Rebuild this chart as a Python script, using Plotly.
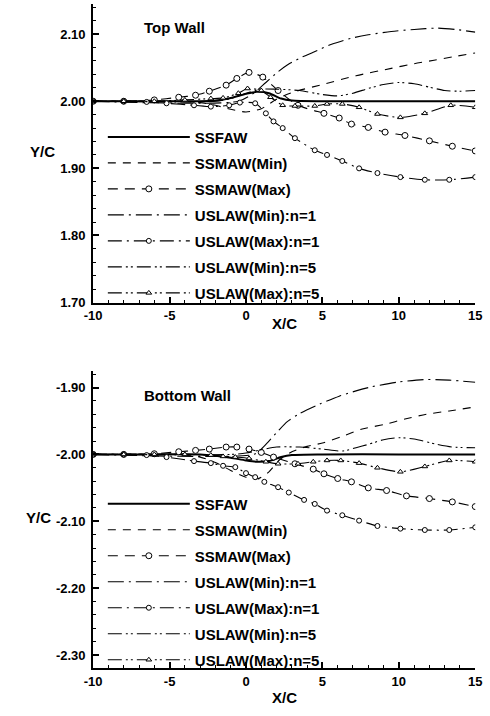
import plotly.graph_objects as go

# ---------------- data ----------------
series_names = ["SSFAW", "SSMAW(Min)", "SSMAW(Max)", "USLAW(Min):n=1",
                "USLAW(Max):n=1", "USLAW(Min):n=5", "USLAW(Max):n=5"]

x_ticks = [-10, -5, 0, 5, 10, 15]
x_tick_text = ["-10", "-5", "0", "5", "10", "15"]
top_y_ticks = [1.70, 1.80, 1.90, 2.00, 2.10]
top_y_tick_text = ["1.70", "1.80", "1.90", "2.00", "2.10"]
bot_y_ticks = [-2.30, -2.20, -2.10, -2.00, -1.90]
bot_y_tick_text = ["-2.30", "-2.20", "-2.10", "-2.00", "-1.90"]

# Top wall
top_ssfaw_x = [-10, -6, -3, -2, -1, 0, 0.7, 1.5, 2.3, 3, 5, 10, 15]
top_ssfaw_y = [2.000, 2.000, 2.000, 2.001, 2.005, 2.011, 2.014, 2.012, 2.004, 2.001, 2.000, 2.000, 2.000]

top_ssmaw_min_x = [-10, -5, -3, -2, -1, 0, 1, 2, 3, 5, 7.2, 9.5, 11, 12.3, 13.5, 15]
top_ssmaw_min_y = [2.000, 2.000, 1.998, 1.994, 1.988, 1.984, 1.989, 2.003, 2.013, 2.025, 2.038, 2.049, 2.056, 2.061, 2.066, 2.072]

top_ssmaw_max_x = [-10, -8, -6, -4.4, -3.3, -2.4, -1.3, -0.6, 0.2, 1.1, 2.1, 3.4, 5.1, 6.1, 6.9, 8.0, 9.1, 10.4, 12.0, 13.5, 15]
top_ssmaw_max_y = [2.000, 2.000, 2.002, 2.006, 2.009, 2.015, 2.024, 2.034, 2.043, 2.036, 2.016, 1.994, 1.982, 1.975, 1.966, 1.961, 1.954, 1.949, 1.941, 1.933, 1.926]

top_uslaw_min1_x = [-10, -0.5, 0.5, 1.3, 2.1, 2.7, 3.5, 4.4, 5.6, 6.9, 8, 9.5, 11, 12.5, 13.7, 15]
top_uslaw_min1_y = [2.000, 2.000, 2.012, 2.028, 2.044, 2.054, 2.064, 2.073, 2.085, 2.094, 2.099, 2.104, 2.107, 2.109, 2.107, 2.103]

top_uslaw_max1_x = [-10, -8, -6.5, -5.2, -3.4, -2.3, -1.1, -0.4, 0.6, 1.3, 1.8, 2.4, 3.2, 4.5, 5.3, 6.3, 7.4, 8.6, 10.1, 11.7, 13.3, 15]
top_uslaw_max1_y = [2.000, 2.000, 1.999, 1.997, 1.994, 1.992, 1.994, 1.998, 1.997, 1.982, 1.970, 1.960, 1.945, 1.927, 1.920, 1.911, 1.900, 1.893, 1.887, 1.883, 1.883, 1.887]

top_uslaw_min5_x = [-10, -2, -1, 0, 1, 2, 3.5, 5, 6, 7, 8, 9, 10, 11, 12, 13, 14, 15]
top_uslaw_min5_y = [2.000, 2.000, 2.004, 2.012, 2.018, 2.018, 2.016, 2.010, 2.008, 2.012, 2.019, 2.025, 2.028, 2.026, 2.021, 2.016, 2.015, 2.016]

top_uslaw_max5_x = [-10, -8, -6, -4, -2.3, -1.5, -0.5, 0.1, 1.0, 1.6, 2.4, 3.2, 4.5, 5.3, 6.3, 7.4, 8.6, 10.1, 11.7, 13.4, 15]
top_uslaw_max5_y = [2.000, 2.000, 2.000, 2.002, 2.004, 2.005, 2.012, 2.019, 2.016, 2.006, 1.994, 1.993, 1.993, 1.996, 1.996, 1.991, 1.981, 1.976, 1.982, 1.994, 1.991]

# Bottom wall
bot_ssfaw_x = [-10, -6, -3, -2, -1, 0, 0.7, 1.5, 2.3, 3, 5, 10, 15]
bot_ssfaw_y = [-2.000, -2.000, -2.000, -2.002, -2.005, -2.009, -2.011, -2.010, -2.004, -2.001, -2.000, -2.000, -2.000]

bot_ssmaw_min_x = [-10, -5, -3, -2, -1, 0, 0.8, 1.5, 2.2, 3, 4, 5, 6.3, 7.6, 9.1, 10.4, 11.8, 13.3, 15]
bot_ssmaw_min_y = [-2.000, -2.000, -2.004, -2.012, -2.024, -2.034, -2.036, -2.026, -2.008, -1.996, -1.988, -1.983, -1.973, -1.962, -1.955, -1.947, -1.940, -1.935, -1.929]

bot_ssmaw_max_x = [-10, -8, -6, -4.4, -3.3, -2.4, -1.3, -0.6, 0.2, 1.0, 1.8, 3.2, 4.4, 5.1, 6.0, 6.9, 8.0, 9.2, 10.5, 12.0, 13.5, 15]
bot_ssmaw_max_y = [-2.000, -2.000, -1.999, -1.996, -1.994, -1.992, -1.989, -1.989, -1.992, -1.997, -2.004, -2.014, -2.022, -2.029, -2.036, -2.041, -2.050, -2.054, -2.062, -2.066, -2.071, -2.078]

bot_uslaw_min1_x = [-10, 0.5, 1.0, 1.5, 2.1, 2.7, 3.5, 4.8, 6.1, 7.2, 8.2, 9.9, 11.8, 13.3, 15]
bot_uslaw_min1_y = [-2.000, -2.000, -1.992, -1.980, -1.965, -1.951, -1.939, -1.925, -1.913, -1.905, -1.899, -1.892, -1.888, -1.889, -1.892]

bot_uslaw_max1_x = [-10, -8, -6.5, -5.2, -3.4, -2.3, -1.5, -0.7, 0.0, 0.6, 1.2, 2.1, 2.8, 3.8, 4.5, 5.3, 6.3, 7.4, 8.6, 10.1, 11.7, 13.3, 15]
bot_uslaw_max1_y = [-2.000, -2.000, -2.001, -2.004, -2.010, -2.013, -2.017, -2.019, -2.028, -2.034, -2.041, -2.049, -2.057, -2.068, -2.074, -2.084, -2.091, -2.099, -2.107, -2.111, -2.113, -2.113, -2.109]

bot_uslaw_min5_x = [-10, -1, 0, 1, 2, 3.5, 5, 6.3, 7.2, 8, 9, 10, 11, 12.5, 13.5, 15]
bot_uslaw_min5_y = [-2.000, -2.000, -1.998, -1.993, -1.989, -1.989, -1.992, -1.995, -1.990, -1.985, -1.978, -1.975, -1.977, -1.985, -1.989, -1.990]

bot_uslaw_max5_x = [-10, -8, -6, -4, -2.3, -1.5, -0.7, 0.2, 1.3, 2.1, 3.4, 4.4, 5.3, 6.2, 7.4, 8.6, 10.1, 11.7, 13.3, 15]
bot_uslaw_max5_y = [-2.000, -2.000, -2.000, -2.000, -2.001, -2.003, -2.004, -2.006, -2.011, -2.014, -2.014, -2.011, -2.009, -2.009, -2.013, -2.020, -2.026, -2.018, -2.009, -2.011]

top_series = [(top_ssfaw_x, top_ssfaw_y), (top_ssmaw_min_x, top_ssmaw_min_y),
              (top_ssmaw_max_x, top_ssmaw_max_y), (top_uslaw_min1_x, top_uslaw_min1_y),
              (top_uslaw_max1_x, top_uslaw_max1_y), (top_uslaw_min5_x, top_uslaw_min5_y),
              (top_uslaw_max5_x, top_uslaw_max5_y)]
bot_series = [(bot_ssfaw_x, bot_ssfaw_y), (bot_ssmaw_min_x, bot_ssmaw_min_y),
              (bot_ssmaw_max_x, bot_ssmaw_max_y), (bot_uslaw_min1_x, bot_uslaw_min1_y),
              (bot_uslaw_max1_x, bot_uslaw_max1_y), (bot_uslaw_min5_x, bot_uslaw_min5_y),
              (bot_uslaw_max5_x, bot_uslaw_max5_y)]

# ---------------- styles ----------------
styles = [
    dict(dash="solid", width=2.0, symbol=None, msize=0),
    dict(dash="8px,7px", width=1.1, symbol=None, msize=0),
    dict(dash="10px,7px", width=1.1, symbol="circle", msize=6),
    dict(dash="16px,5px,2px,5px", width=1.1, symbol=None, msize=0),
    dict(dash="14px,5px,2px,5px", width=1.1, symbol="circle", msize=5),
    dict(dash="14px,4px,2px,3px,2px,4px", width=1.1, symbol=None, msize=0),
    dict(dash="14px,4px,2px,3px,2px,4px", width=1.1, symbol="triangle-up", msize=5),
]

FONT = "Liberation Sans, Arial, sans-serif"
fig = go.Figure()

for panel, series, xa, ya, leg in [("t", top_series, "x", "y", "legend"),
                                   ("b", bot_series, "x2", "y2", "legend2")]:
    for i, ((xs, ys), name, st) in enumerate(zip(series, series_names, styles)):
        mode = "lines+markers" if st["symbol"] else "lines"
        kw = {}
        if st["symbol"]:
            kw["marker"] = dict(symbol=st["symbol"], size=st["msize"], color="white",
                                line=dict(color="black", width=1))
        fig.add_trace(go.Scatter(
            x=xs, y=ys, name=name, mode=mode, xaxis=xa, yaxis=ya,
            legend=leg, legendgroup=panel + str(i),
            line=dict(color="black", width=st["width"], dash=st["dash"],
                      shape="spline", smoothing=0.7),
            **kw))

W, H = 490, 716
xl, xr = 87 / W, 482 / W
top_dom = [1 - 306 / H, 1 - 4 / H]
bot_dom = [1 - 676 / H, 1 - 375 / H]

axis_common = dict(showline=True, linewidth=2, linecolor="black", showgrid=False,
                   zeroline=False, ticks="inside", ticklen=6, tickwidth=1.5,
                   tickcolor="black", mirror=False,
                   tickfont=dict(family=FONT, size=13, color="black", weight="bold"))

xaxis_kw = dict(axis_common, range=[-10, 15], tickmode="array",
                tickvals=x_ticks, ticktext=x_tick_text,
                minor=dict(dtick=1, ticklen=3, ticks="inside", tickcolor="black", tickwidth=1),
                domain=[xl, xr])
yminor = dict(dtick=0.02, tick0=0, ticklen=3, ticks="inside", tickcolor="black", tickwidth=1)

fig.update_layout(
    width=W, height=H,
    margin=dict(l=0, r=0, t=0, b=0),
    paper_bgcolor="white", plot_bgcolor="white",
    font=dict(family=FONT, color="black"),
    xaxis=dict(xaxis_kw, anchor="y"),
    yaxis=dict(axis_common, range=[1.70, 2.145], tickmode="array",
               tickvals=top_y_ticks, ticktext=top_y_tick_text, ticklabelstandoff=3,
               minor=yminor, domain=top_dom, anchor="x"),
    xaxis2=dict(xaxis_kw, anchor="y2"),
    yaxis2=dict(axis_common, range=[-2.32, -1.875], tickmode="array",
                tickvals=bot_y_ticks, ticktext=bot_y_tick_text, ticklabelstandoff=3,
                minor=yminor, domain=bot_dom, anchor="x2"),
    legend=dict(x=97 / W, y=1 - 122 / H, xanchor="left", yanchor="top",
                bgcolor="rgba(0,0,0,0)", itemwidth=82, tracegroupgap=3.5,
                font=dict(family=FONT, size=15, color="black", weight="bold")),
    legend2=dict(x=97 / W, y=1 - 493 / H, xanchor="left", yanchor="top",
                 bgcolor="rgba(0,0,0,0)", itemwidth=82, tracegroupgap=3.5,
                 font=dict(family=FONT, size=15, color="black", weight="bold")),
    showlegend=True,
)

ann_font = dict(family=FONT, size=15, color="black", weight="bold")
bold_font = dict(family=FONT, size=15, color="black", weight="bold")
annotations = [
    dict(text="Top Wall", x=138 / W, y=1 - 28 / H, xanchor="left", yanchor="middle", font=ann_font),
    dict(text="Bottom Wall", x=138 / W, y=1 - 400 / H, xanchor="left", yanchor="middle", font=ann_font),
    dict(text="Y/C", x=35 / W, y=1 - 153 / H, xanchor="center", yanchor="middle", font=bold_font),
    dict(text="Y/C", x=31 / W, y=1 - 523 / H, xanchor="center", yanchor="middle", font=bold_font),
    dict(text="X/C", x=285 / W, y=1 - 327 / H, xanchor="center", yanchor="middle", font=bold_font),
    dict(text="X/C", x=285 / W, y=1 - 705 / H, xanchor="center", yanchor="middle", font=bold_font),
]
for a in annotations:
    a.update(xref="paper", yref="paper", showarrow=False)
fig.update_layout(annotations=annotations)

fig.write_html("out.html")
